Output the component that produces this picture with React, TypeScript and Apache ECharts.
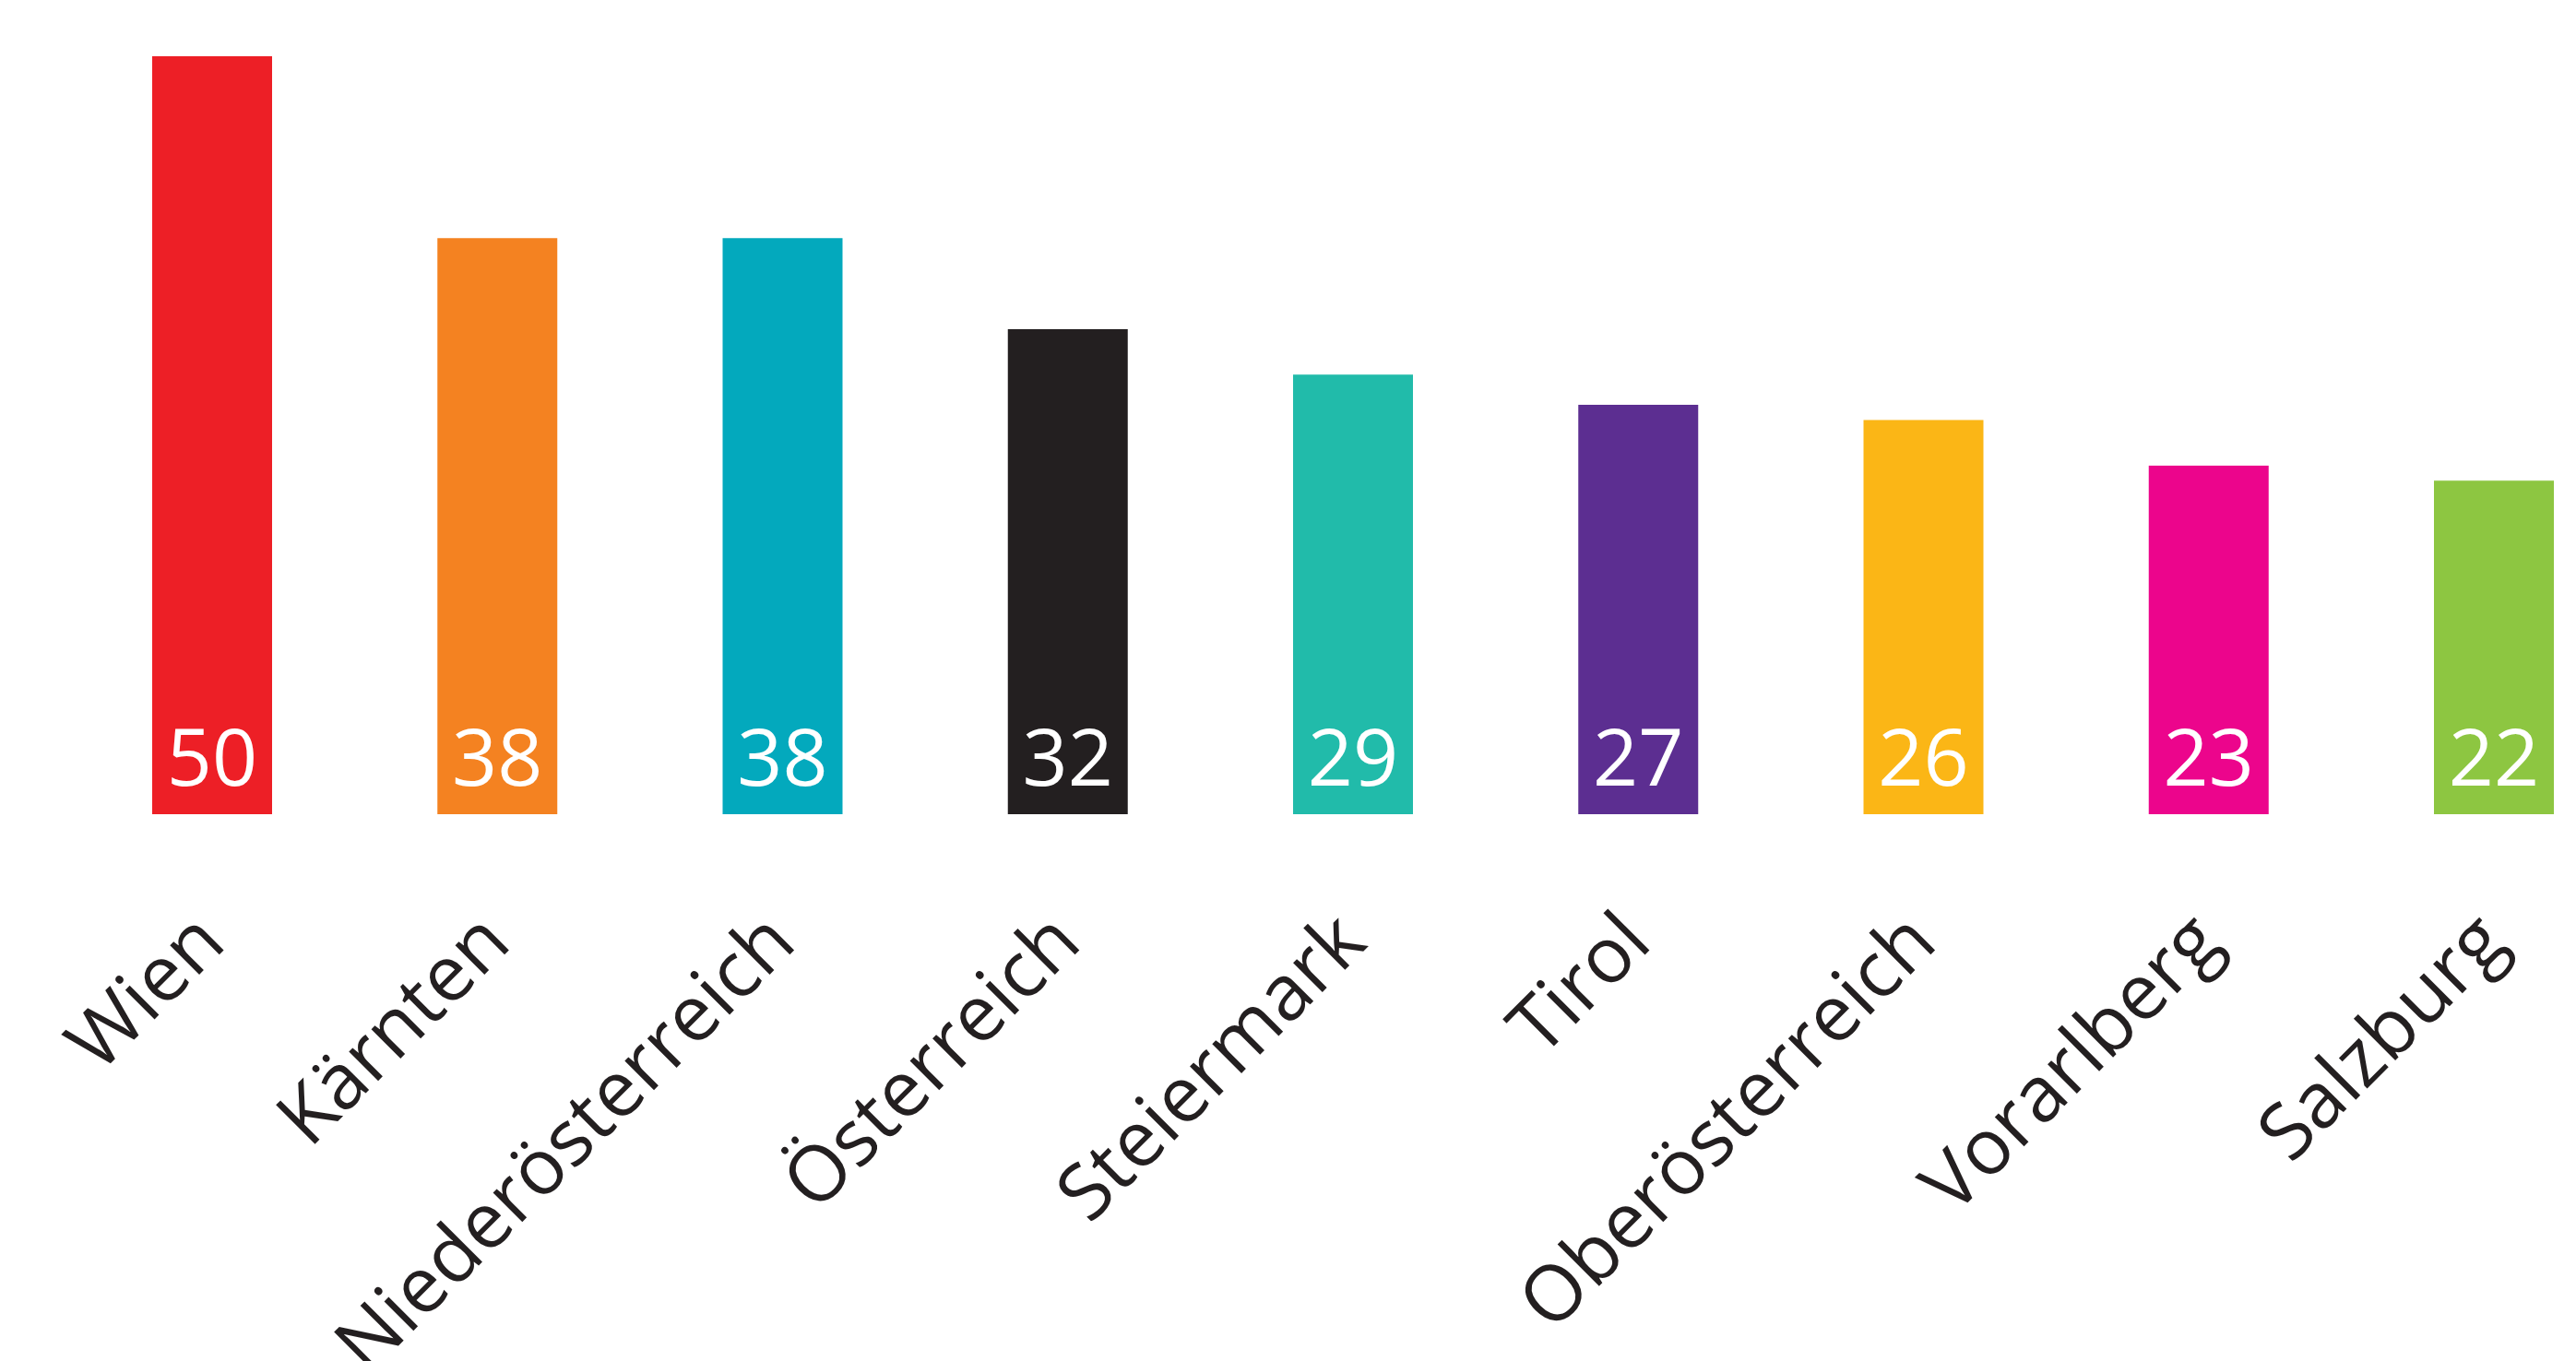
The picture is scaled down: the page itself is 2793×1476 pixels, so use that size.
import React, { useEffect, useRef } from "react";
import * as echarts from "echarts";

const categories = [
  "Wien",
  "Kärnten",
  "Niederösterreich",
  "Österreich",
  "Steiermark",
  "Tirol",
  "Oberösterreich",
  "Vorarlberg",
  "Salzburg",
];
const values = [50, 38, 38, 32, 29, 27, 26, 23, 22];
const barColors = [
  "#ED1F26",
  "#F48221",
  "#03A9BD",
  "#231F20",
  "#21BBAA",
  "#5C2E91",
  "#FBB616",
  "#EC058C",
  "#8DC641",
];

export default function App() {
  const ref = useRef<HTMLDivElement>(null);
  useEffect(() => {
    if (!ref.current) return;
    const chart = echarts.init(ref.current, null, { renderer: "svg" });
    chart.setOption({
      animation: false,
      backgroundColor: "#ffffff",
      grid: {
        left: 230,
        right: 89,
        top: 61,
        height: 822,
        containLabel: false,
        outerBoundsMode: "none",
      },
      xAxis: {
        type: "category",
        data: categories,
        boundaryGap: false,
        axisLine: { show: false },
        axisTick: { show: false },
        splitLine: { show: false },
        axisLabel: {
          interval: 0,
          rotate: 45,
          margin: 114,
          fontSize: 84,
          color: "#231F20",
          fontFamily: "'Open Sans', sans-serif",
          padding: [0, 8, 0, 0],
        },
      },
      yAxis: {
        type: "value",
        min: 0,
        max: 50,
        show: false,
        splitLine: { show: false },
      },
      series: [
        {
          type: "bar",
          barWidth: 130,
          data: values.map((v, i) => ({ value: v, itemStyle: { color: barColors[i] } })),
          label: {
            show: true,
            position: "insideBottom",
            distance: 22,
            color: "#ffffff",
            fontSize: 86,
            fontFamily: "'Open Sans', sans-serif",
          },
        },
      ],
    });
    return () => chart.dispose();
  }, []);
  return (
    <div
      ref={ref}
      style={{ position: "fixed", left: 0, top: 0, width: 2793, height: 1476, background: "#fff" }}
    />
  );
}
